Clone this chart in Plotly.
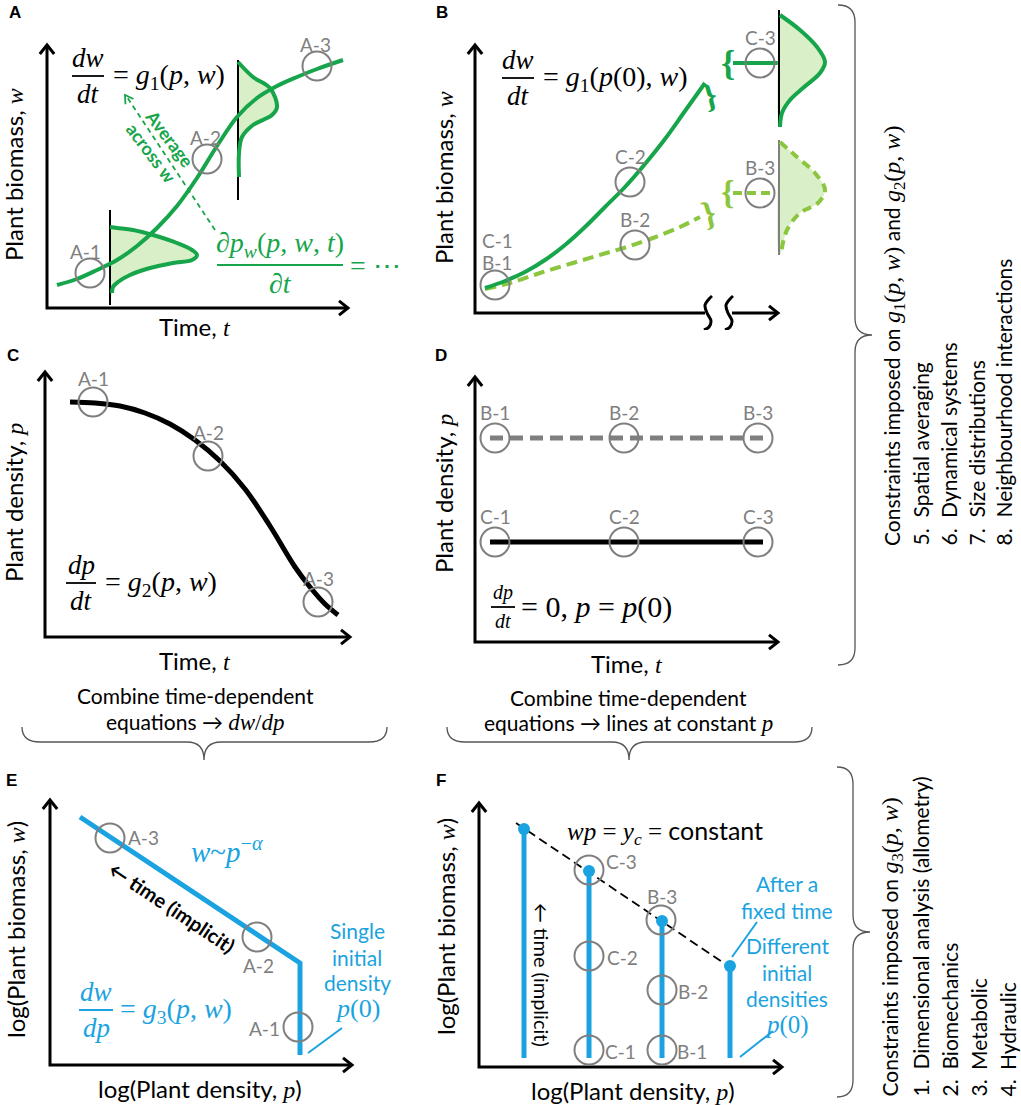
import math
import plotly.graph_objects as go

W, H = 1021, 1105

GREEN = "#16a54a"
LIGHT_GREEN = "#8cc63f"
FILL_GREEN = "#d9efc8"
BLUE = "#1aa3e0"
GREY = "#7f7f7f"
SANS = "Lato"
SERIF = "Liberation Serif"

# ---- data (schematic units, measured from each panel's axis origin) ----
# A: average biomass trajectory and two size distributions
a_t = [10, 30, 50, 70, 90, 110, 130, 150, 170, 190, 210, 230, 250, 270, 296]
a_w = [23, 29, 38, 48, 62, 80, 102, 130, 162, 191, 210, 222, 231, 239, 248]
a_dist1_x = [63, 70, 86, 106, 130, 145, 150, 145, 126, 103, 83, 71, 66, 65]
a_dist1_y = [81, 80, 78, 73, 65, 58, 53, 48, 45, 40, 33, 26, 21, 15]
a_dist1_base = (63, 3, 98)
a_dist2_x = [191, 206, 223, 230, 225, 206, 195, 192, 192]
a_dist2_y = [246, 231, 220, 201, 193, 183, 171, 155, 131]
a_dist2_base = (191, 108, 248)
a_pts = ["A-1", "A-2", "A-3"]
a_pts_x = [43, 160, 270]
a_pts_y = [35, 149, 242]
a_lab_x = [38, 158, 268]
a_lab_y = [57, 171, 264]

# B: constant-density trajectories (high / low density)
b_hi_t = [10, 30, 50, 70, 90, 110, 130, 150, 170, 190, 210, 230]
b_hi_w = [25, 32, 41, 53, 68, 86, 106, 126, 149, 174, 202, 230]
b_lo_t = [10, 35, 65, 98, 128, 155, 178, 205, 225]
b_lo_w = [24, 30, 40, 50, 59, 67, 75, 86, 96]
b_dist_hi_x = [305, 325, 342, 350, 345, 328, 315, 307, 305]
b_dist_hi_y = [298, 283, 266, 251, 240, 225, 213, 200, 186]
b_dist_lo_x = [305, 322, 340, 350, 343, 325, 312, 306]
b_dist_lo_y = [171, 156, 140, 123, 110, 100, 83, 60]
b_pts = ["C-1", "B-1", "C-2", "B-2", "C-3", "B-3"]
b_pts_x = [20, 155, 160, 285, 285]
b_pts_y = [28, 131, 68, 250, 120]
b_lab_x = [22, 22, 155, 160, 285, 285]
b_lab_y = [73, 51, 157, 94, 276, 146]

# C: density through time
c_t = [25, 50, 75, 100, 125, 150, 175, 200, 225, 250, 265, 280, 293]
c_p = [235, 234, 231, 224, 213, 197, 176, 148, 111, 70, 50, 33, 22]
c_pts = ["A-1", "A-2", "A-3"]
c_pts_x = [48, 163, 273]
c_pts_y = [235, 181, 35]

# D: constant densities
d_t = [15, 288]
d_hi = [204, 204]
d_lo = [100, 100]
d_pts_t = [20, 149, 283]

# E: self-thinning line
e_p = [30, 250, 250]
e_w = [248, 102, 10]
e_pts = ["A-3", "A-2", "A-1"]
e_pts_x = [60, 207, 248]
e_pts_y = [227, 128, 38]
e_lab_x = [93, 208, 214]
e_lab_y = [228, 100, 37]

# F: several initial densities
f_p = [45, 110, 183, 251]
f_top = [238, 196, 146, 101]
f_bottom = 9
f_const_p = [37, 255]
f_const_w = [244, 97]
f_pts = ["C-3", "B-3", "C-2", "B-2", "C-1", "B-1"]
f_pts_x = [110, 182, 110, 183, 110, 183]
f_pts_y = [197, 147, 111, 77, 17, 17]
f_lab_x = [142, 183, 143, 214, 141, 213]
f_lab_y = [206, 171, 110, 76, 16, 16]

# ---- panel frames in figure pixels: (left, top, right, bottom), axis origin, axis lengths ----
frames = {
    "A": ((0, 0, 400, 330), (47, 308), (301, 263)),
    "B": ((400, 0, 840, 330), (475, 313), (303, 268)),
    "C": ((0, 330, 400, 680), (45, 637), (305, 265)),
    "D": ((400, 330, 840, 680), (475, 642), (303, 265)),
    "E": ((0, 760, 400, 1105), (50, 1065), (302, 265)),
    "F": ((400, 760, 840, 1105), (479, 1067), (303, 264)),
}

fig = go.Figure()
layout_axes = {}
refs = {}
for i, (name, ((l, t, r, b), (ox, oy), _)) in enumerate(frames.items(), start=1):
    sx = "" if i == 1 else str(i)
    refs[name] = ("x" + sx, "y" + sx)
    layout_axes["xaxis" + sx] = dict(domain=[l / W, r / W], range=[l - ox, r - ox],
                                     anchor="y" + sx, visible=False, fixedrange=True)
    layout_axes["yaxis" + sx] = dict(domain=[1 - b / H, 1 - t / H], range=[oy - b, oy - t],
                                     anchor="x" + sx, visible=False, fixedrange=True)
# full canvas for braces and side notes
refs["Z"] = ("x7", "y7")
layout_axes["xaxis7"] = dict(domain=[0, 1], range=[0, W], anchor="y7", visible=False, fixedrange=True)
layout_axes["yaxis7"] = dict(domain=[0, 1], range=[H, 0], anchor="x7", visible=False, fixedrange=True)


def line(p, xs, ys, color="black", width=3, dash=None, shape="linear", fill=None, fillcolor=None):
    xr, yr = refs[p]
    fig.add_trace(go.Scatter(x=xs, y=ys, mode="lines", xaxis=xr, yaxis=yr,
                             line=dict(color=color, width=width, dash=dash, shape=shape),
                             fill=fill, fillcolor=fillcolor, hoverinfo="skip", showlegend=False))


def text(p, x, y, s, size, color="black", family=SANS, angle=0, xanchor="center", yanchor="middle"):
    xr, yr = refs[p]
    fig.add_annotation(x=x, y=y, xref=xr, yref=yr, text=s, showarrow=False, textangle=angle,
                       xanchor=xanchor, yanchor=yanchor, font=dict(family=family, size=size, color=color))


def chevron(p, tip, tail, size=9, spread=0.8, color="black", width=3):
    dx, dy = tip[0] - tail[0], tip[1] - tail[1]
    n = math.hypot(dx, dy)
    ux, uy = dx / n, dy / n
    bx, by = tip[0] - ux * size, tip[1] - uy * size
    qx, qy = -uy * size * spread, ux * size * spread
    line(p, [bx + qx, tip[0], bx - qx], [by + qy, tip[1], by - qy], color, width)


def axes(p, broken=False):
    xl, yl = frames[p][2]
    if broken:
        line(p, [0, 0, 230], [yl, 0, 0])
        line(p, [257, xl], [0, 0])
        # axis break marks
        for bx in (233, 254):
            line(p, [bx + 4, bx + 1, bx - 3, bx - 1, bx + 3, bx + 1, bx - 4],
                 [17, 14, 8, 0, -8, -14, -17], width=3, shape="spline")
    else:
        line(p, [0, 0, xl], [yl, 0, 0])
    chevron(p, (0, yl), (0, 0))
    chevron(p, (xl, 0), (0, 0))


def circles(p, xs, ys):
    xr, yr = refs[p]
    fig.add_trace(go.Scatter(x=xs, y=ys, mode="markers", xaxis=xr, yaxis=yr, hoverinfo="skip",
                             showlegend=False,
                             marker=dict(symbol="circle-open", size=29, color=GREY, line=dict(width=2))))


def labels(p, xs, ys, names):
    for x, y, s in zip(xs, ys, names):
        text(p, x, y, s, 19, GREY)


def frac(p, xc, yb, num, den, half, size, color="black"):
    text(p, xc, yb + 1, num, size, color, SERIF, yanchor="bottom")
    text(p, xc, yb - 1, den, size, color, SERIF, yanchor="top")
    line(p, [xc - half, xc + half], [yb, yb], color, 1.8)


def distribution(p, xs, ys, base, color, dash=None, base_color="black"):
    bx, b0, b1 = base
    line(p, xs + [bx, bx], ys + [b0, b1], width=0, shape="spline", fill="toself", fillcolor=FILL_GREEN)
    line(p, [bx, bx], [b0, b1], base_color, 2)
    line(p, xs, ys, color, 4, dash=dash, shape="spline")


def sv(s, size=None):
    st = "font-family:%s" % SERIF
    if size:
        st += ";font-size:%dpx" % size
    return '<span style="%s">%s</span>' % (st, s)


AX = 24  # axis title size

# ---- panel A ----
distribution("A", a_dist1_x, a_dist1_y, a_dist1_base, GREEN)
distribution("A", a_dist2_x, a_dist2_y, a_dist2_base, GREEN)
line("A", a_t, a_w, GREEN, 4, shape="spline")
axes("A")
circles("A", a_pts_x, a_pts_y)
labels("A", a_lab_x, a_lab_y, a_pts)
line("A", [168, 80], [78, 211], GREEN, 1.8, dash="5px,4px")
chevron("A", (78, 213), (168, 78), size=8, spread=0.6, color=GREEN, width=1.8)
text("A", 114, 163, "<b>Average<br>across w</b>", 18, GREEN, angle=53)
frac("A", 41, 232, "<i>dw</i>", "<i>dt</i>", 16, 27)
text("A", 64, 232, "= <i>g</i><sub>1</sub>(<i>p</i>, <i>w</i>)", 28, family=SERIF, xanchor="left")
frac("A", 233, 43, "∂<i>p</i><sub><i>w</i></sub>(<i>p</i>, <i>w</i>, <i>t</i>)", "∂<i>t</i>", 63, 28, GREEN)
text("A", 301, 43, "= ⋯", 28, GREEN, SERIF, xanchor="left")
text("A", -34, 133, "Plant biomass, " + sv("<i>w</i>"), AX, angle=-90)
text("A", 148, -18, "Time, " + sv("<i>t</i>"), AX)

# ---- panel B ----
line("B", b_lo_t, b_lo_w, LIGHT_GREEN, 4, dash="11px,6px", shape="spline")
line("B", b_hi_t, b_hi_w, GREEN, 4, shape="spline")
text("B", 234, 218, "<b>}</b>", 34, GREEN, SERIF, angle=-15)
text("B", 233, 100, "<b>}</b>", 34, LIGHT_GREEN, SERIF, angle=-15)
text("B", 253, 250, "<b>{</b>", 36, GREEN, SERIF)
text("B", 252, 121, "<b>{</b>", 34, LIGHT_GREEN, SERIF)
line("B", [258, 304], [250, 250], GREEN, 4)
line("B", [258, 300], [120, 120], LIGHT_GREEN, 4, dash="9px,5px")
distribution("B", b_dist_hi_x, b_dist_hi_y, (304, 186, 303), GREEN)
distribution("B", b_dist_lo_x, b_dist_lo_y, (304, 58, 173), LIGHT_GREEN, dash="9px,6px", base_color=GREY)
axes("B", broken=True)
circles("B", b_pts_x, b_pts_y)
labels("B", b_lab_x, b_lab_y, b_pts)
frac("B", 43, 235, "<i>dw</i>", "<i>dt</i>", 16, 27)
text("B", 66, 235, "= <i>g</i><sub>1</sub>(<i>p</i>(0), <i>w</i>)", 28, family=SERIF, xanchor="left")
text("B", -32, 135, "Plant biomass, " + sv("<i>w</i>"), AX, angle=-90)
text("B", 152, -18, "Time, " + sv("<i>t</i>"), AX)

# ---- panel C ----
line("C", c_t, c_p, "black", 5, shape="spline")
axes("C")
circles("C", c_pts_x, c_pts_y)
labels("C", c_pts_x, [y + 24 for y in c_pts_y], c_pts)
frac("C", 36, 54, "<i>dp</i>", "<i>dt</i>", 15, 27)
text("C", 58, 54, "= <i>g</i><sub>2</sub>(<i>p</i>, <i>w</i>)", 28, family=SERIF, xanchor="left")
text("C", -32, 134, "Plant density, " + sv("<i>p</i>"), AX, angle=-90)
text("C", 150, -23, "Time, " + sv("<i>t</i>"), AX)

# ---- panel D ----
line("D", d_t, d_hi, GREY, 5, dash="13px,7px")
line("D", d_t, d_lo, "black", 5)
axes("D")
circles("D", d_pts_t * 2, [d_hi[0]] * 3 + [d_lo[0]] * 3)
labels("D", d_pts_t * 2, [d_hi[0] + 26] * 3 + [d_lo[0] + 26] * 3,
       ["B-1", "B-2", "B-3", "C-1", "C-2", "C-3"])
frac("D", 28, 35, "<i>dp</i>", "<i>dt</i>", 12, 20)
text("D", 44, 35, "= 0, <i>p</i> = <i>p</i>(0)", 30, family=SERIF, xanchor="left")
text("D", -32, 148, "Plant density, " + sv("<i>p</i>"), AX, angle=-90)
text("D", 152, -21, "Time, " + sv("<i>t</i>"), AX)

# ---- panel E ----
line("E", e_p, e_w, BLUE, 5)
axes("E")
circles("E", e_pts_x, e_pts_y)
labels("E", e_lab_x, e_lab_y, e_pts)
text("E", 177, 215, "<i>w</i>~<i>p</i><sup>−<i>α</i></sup>", 29, BLUE, SERIF)
text("E", 122, 158, "<b>← time (implicit)</b>", 20, angle=33.7)
for y, s in zip([135, 108, 83, 57], ["Single", "initial", "density", sv("<i>p</i>(0)", 26)]):
    text("E", 307, y, s, 21, BLUE)
line("E", [258, 292], [12, 37], BLUE, 2)
frac("E", 46, 55, "<i>dw</i>", "<i>dp</i>", 17, 27, BLUE)
text("E", 68, 55, "= <i>g</i><sub>3</sub>(<i>p</i>, <i>w</i>)", 28, BLUE, SERIF, xanchor="left")
text("E", -35, 135, "log(Plant biomass, " + sv("<i>w</i>") + ")", AX, angle=-90)
text("E", 150, -23, "log(Plant density, " + sv("<i>p</i>") + ")", AX)

# ---- panel F ----
for x, top in zip(f_p, f_top):
    line("F", [x, x], [f_bottom, top], BLUE, 5)
line("F", f_const_p, f_const_w, "black", 1.8, dash="9px,5px")
xr, yr = refs["F"]
fig.add_trace(go.Scatter(x=f_p, y=f_top, mode="markers", xaxis=xr, yaxis=yr, hoverinfo="skip",
                         showlegend=False, marker=dict(size=12, color=BLUE)))
axes("F")
circles("F", f_pts_x, f_pts_y)
labels("F", f_lab_x, f_lab_y, f_pts)
text("F", 186, 235, "<i>wp</i> = <i>y<sub>c</sub></i> = " + '<span style="font-family:%s">constant</span>' % SANS,
     25, family=SERIF)
text("F", 63, 92, "← time (implicit)", 20, angle=90)
for y, s in zip([184, 157, 122, 95, 69, 42],
                ["After a", "fixed time", "Different", "initial", "densities", sv("<i>p</i>(0)", 25)]):
    text("F", 308, y, s, 21, BLUE)
line("F", [253, 278], [110, 145], BLUE, 2)
line("F", [261, 294], [10, 36], BLUE, 2)
text("F", -34, 140, "log(Plant biomass, " + sv("<i>w</i>") + ")", AX, angle=-90)
text("F", 154, -23, "log(Plant density, " + sv("<i>p</i>") + ")", AX)

# ---- panel letters ----
for name, (x, y) in zip("ABCDEF", [(15, 12), (442, 12), (13, 355), (441, 355), (11, 780), (441, 780)]):
    text("Z", x, y, "<b>%s</b>" % name, 17, family="Liberation Sans")

# ---- braces ----
brace_paths = [
    "M 22,727 Q 22,742 40,742 L 187,742 Q 204,742 204,760 Q 204,742 221,742 L 369,742 Q 387,742 387,727",
    "M 447,727 Q 447,742 465,742 L 612,742 Q 629,742 629,760 Q 629,742 646,742 L 794,742 Q 812,742 812,727",
    "M 838,5 Q 855,5 855,22 L 855,318 Q 855,335 872,335 Q 855,335 855,352 L 855,648 Q 855,665 838,665",
    "M 837,767 Q 853,767 853,784 L 853,915 Q 853,932 870,932 Q 853,932 853,949 L 853,1080 Q 853,1097 837,1097",
]
for pth in brace_paths:
    fig.add_shape(type="path", path=pth, xref="x7", yref="y7", line=dict(color="#555555", width=1.3))

text("Z", 195, 695, "Combine time-dependent", 21)
text("Z", 195, 722, "equations → " + sv("<i>dw</i>/<i>dp</i>", 23), 21)
text("Z", 628, 697, "Combine time-dependent", 21)
text("Z", 628, 723, "equations → lines at constant " + sv("<i>p</i>", 23), 21)

RT = 21
g1 = sv("<i>g</i><sub>1</sub>(<i>p</i>, <i>w</i>)", 24)
g2 = sv("<i>g</i><sub>2</sub>(<i>p</i>, <i>w</i>)", 24)
g3 = sv("<i>g</i><sub>3</sub>(<i>p</i>, <i>w</i>)", 24)
text("Z", 894, 548, "Constraints imposed on %s and %s" % (g1, g2), RT, angle=-90, yanchor="bottom")
for x, num, item in zip([920, 948, 976, 1003], ["5.", "6.", "7.", "8."],
                        ["Spatial averaging", "Dynamical systems", "Size distributions",
                         "Neighbourhood interactions"]):
    text("Z", x, 548, num, RT, angle=-90, yanchor="bottom")
    text("Z", x, 520, item, RT, angle=-90, yanchor="bottom")
text("Z", 891, 1099, "Constraints imposed on %s" % g3, RT, angle=-90, yanchor="bottom")
for x, num, item in zip([920, 949, 978, 1007], ["1.", "2.", "3.", "4."],
                        ["Dimensional analysis (allometry)", "Biomechanics", "Metabolic", "Hydraulic"]):
    text("Z", x, 1099, num, RT, angle=-90, yanchor="bottom")
    text("Z", x, 1072, item, RT, angle=-90, yanchor="bottom")

fig.update_layout(width=W, height=H, margin=dict(l=0, r=0, t=0, b=0),
                  paper_bgcolor="white", plot_bgcolor="rgba(0,0,0,0)", showlegend=False, **layout_axes)
fig.write_html("out.html", config={"displayModeBar": False},
               post_script="document.body.style.margin='0';")
